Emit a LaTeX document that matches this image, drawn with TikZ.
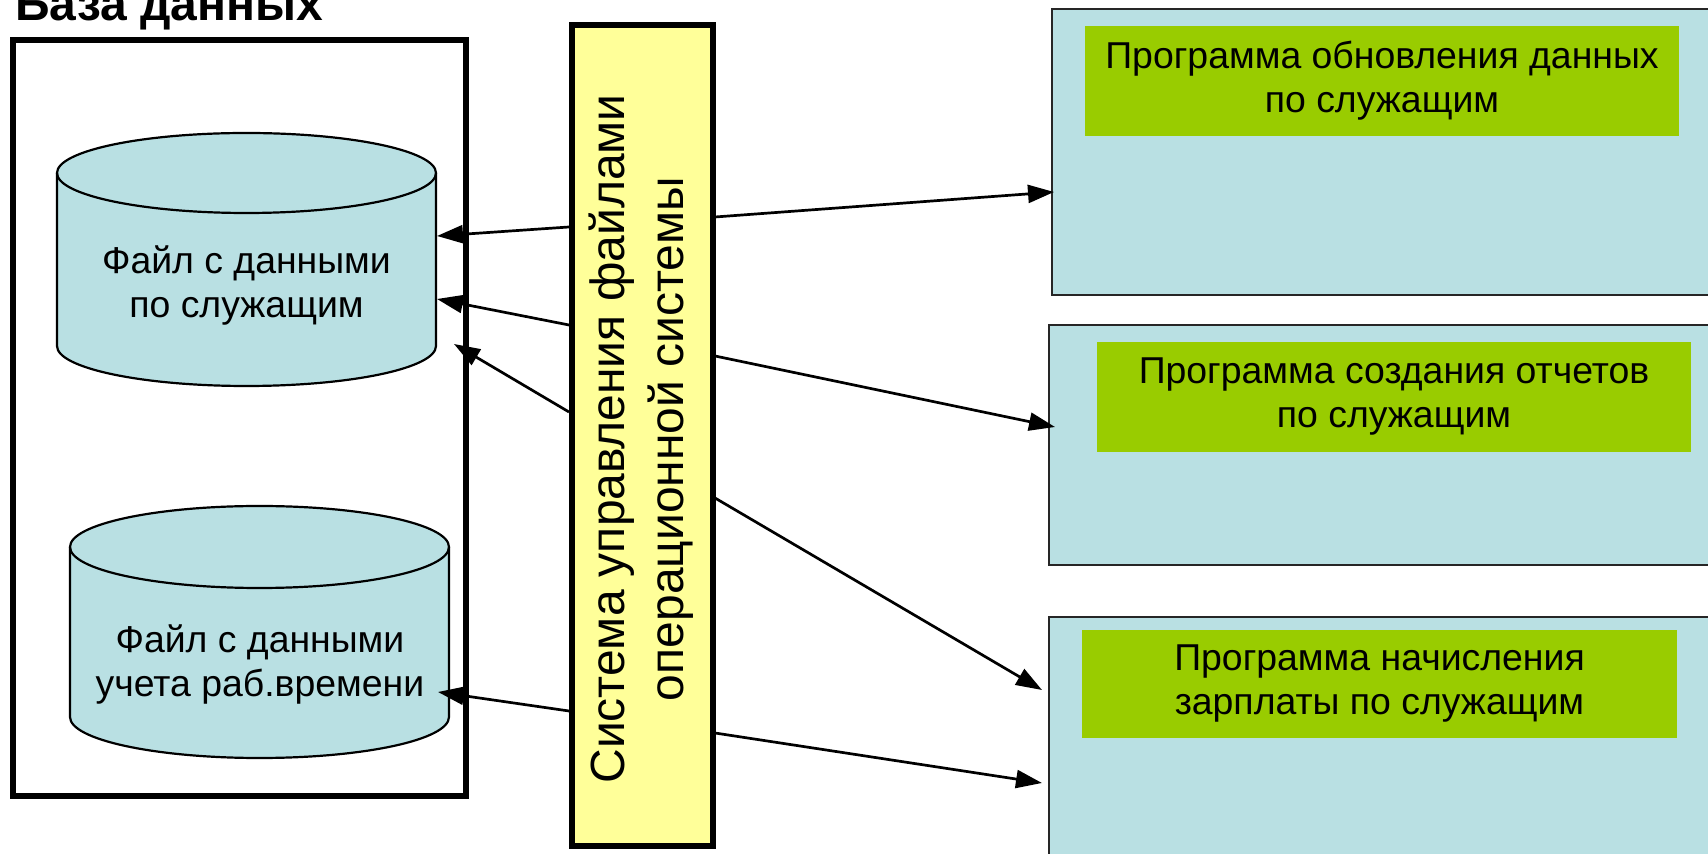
\documentclass[tikz,border=0pt]{standalone}
\usepackage{fontspec}
\setmainfont{Liberation Sans}
\usetikzlibrary{arrows.meta}
\definecolor{cylblue}{HTML}{B9E0E3}
\definecolor{progreen}{HTML}{99CC00}
\definecolor{sysyellow}{HTML}{FFFF99}
\begin{document}
\begin{tikzpicture}[x=0.5pt,y=-0.5pt,
  txt/.style={font=\fontsize{18.7pt}{22pt}\selectfont,align=center,inner sep=0pt},
  dbbox/.style={draw=black,line width=2.8pt,outer sep=0pt,inner sep=0pt,anchor=north west},
  sysbox/.style={draw=black,fill=sysyellow,line width=3pt,outer sep=0pt,inner sep=0pt,anchor=north west},
  progbox/.style={draw=black!85,fill=cylblue,line width=0.9pt,outer sep=0pt,inner sep=0pt,anchor=north west},
  greenbox/.style={fill=progreen,outer sep=0pt,inner sep=0pt,anchor=north west},
  cyl/.style={fill=cylblue,draw=black,line width=1.1pt},
  cylline/.style={draw=black,line width=1.1pt},
  conn/.style={line width=1.35pt,-{Triangle[length=13pt,width=9pt]}}]
\useasboundingbox (0,0) rectangle (1708,854);

% title
\node[anchor=base west,inner sep=0pt,font=\fontsize{24pt}{28pt}\selectfont\bfseries] (title) at (15,21) {База данных};

% database box
\node[dbbox,minimum width=226.5pt,minimum height=378pt] (db) at (13,40) {};

% cylinder 1
\filldraw[cyl] (57,173) -- (57,346) arc[start angle=180,end angle=360,x radius=94.75pt,y radius=20pt]
  -- (436,173) arc[start angle=0,end angle=180,x radius=94.75pt,y radius=20pt] -- cycle;
\draw[cylline] (57,173) arc[start angle=180,end angle=360,x radius=94.75pt,y radius=20pt];
\node[txt] (cyl1) at (246.5,286) {Файл с данными\\по служащим};

% cylinder 2
\filldraw[cyl] (70,547) -- (70,717) arc[start angle=180,end angle=360,x radius=94.75pt,y radius=20.5pt]
  -- (449,547) arc[start angle=0,end angle=180,x radius=94.75pt,y radius=20.5pt] -- cycle;
\draw[cylline] (70,547) arc[start angle=180,end angle=360,x radius=94.75pt,y radius=20.5pt];
\node[txt] (cyl2) at (260,665) {Файл с данными\\учета раб.времени};

% system box
\node[sysbox,minimum width=70.5pt,minimum height=410pt] (sys) at (572,25.5) {};
\node[rotate=90,align=center,inner sep=0pt,font=\fontsize{24pt}{29.5pt}\selectfont] (systxt) at (641,439)
  {Система управления файлами\\операционной системы};

% program boxes
\node[progbox,minimum width=330pt,minimum height=143pt] (p1) at (1052,9) {};
\node[progbox,minimum width=331.5pt,minimum height=120pt] (p2) at (1049,325) {};
\node[progbox,minimum width=331.5pt,minimum height=121.5pt] (p3) at (1049,617) {};

\node[greenbox,minimum width=297pt,minimum height=55pt] (g1) at (1085,26) {};
\node[greenbox,minimum width=297pt,minimum height=55pt] (g2) at (1097,342) {};
\node[greenbox,minimum width=297.5pt,minimum height=54pt] (g3) at (1082,630) {};
\node[txt] (g1t) at (g1.center) {Программа обновления данных\\по служащим};
\node[txt] (g2t) at (g2.center) {Программа создания отчетов\\по служащим};
\node[txt] (g3t) at (g3.center) {Программа начисления\\зарплаты по служащим};

% connector end points
\coordinate (a1s) at (569,227); \coordinate (a1t) at (437,236);
\coordinate (a2s) at (569,325); \coordinate (a2t) at (437,299);
\coordinate (a3s) at (569,412); \coordinate (a3t) at (454,344);
\coordinate (a4s) at (569,711); \coordinate (a4t) at (438,692);
\coordinate (b1s) at (715,217); \coordinate (b1t) at (1054,192);
\coordinate (b2s) at (715,356); \coordinate (b2t) at (1055,427);
\coordinate (b3s) at (715,498); \coordinate (b3t) at (1042,690);
\coordinate (b4s) at (715,733); \coordinate (b4t) at (1042,783);

\draw[conn] (a1s) -- (a1t);
\draw[conn] (a2s) -- (a2t);
\draw[conn] (a3s) -- (a3t);
\draw[conn] (a4s) -- (a4t);
\draw[conn] (b1s) -- (b1t);
\draw[conn] (b2s) -- (b2t);
\draw[conn] (b3s) -- (b3t);
\draw[conn] (b4s) -- (b4t);
\end{tikzpicture}
\end{document}
